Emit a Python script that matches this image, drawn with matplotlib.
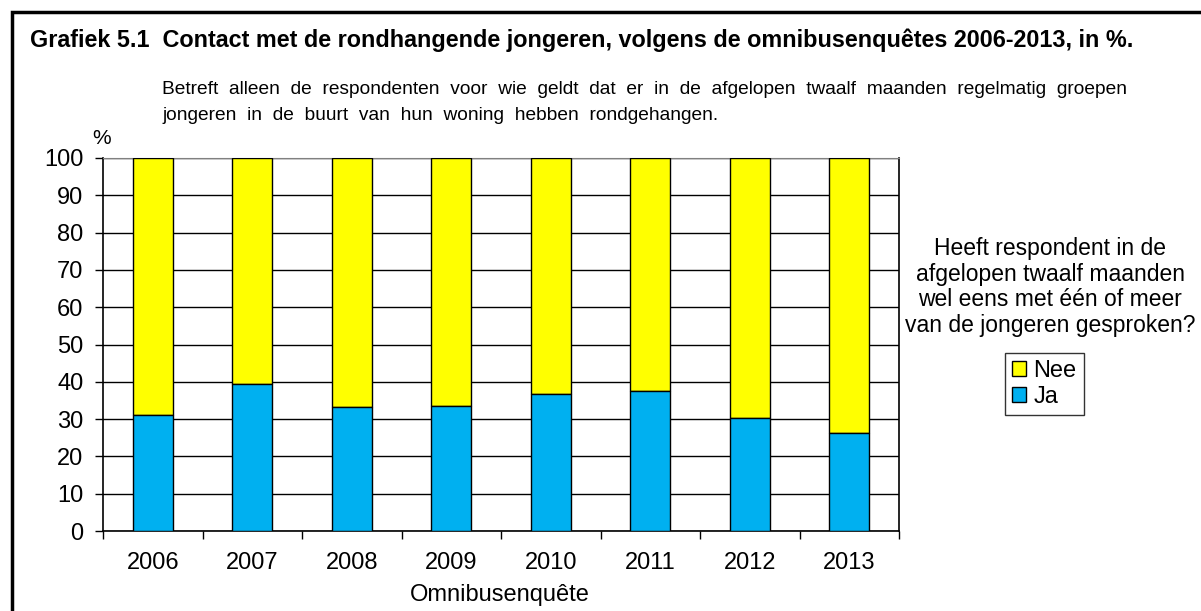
import matplotlib.pyplot as plt
from matplotlib.patches import Rectangle
import numpy as np

plt.rcParams['font.family'] = ['Liberation Sans', 'DejaVu Sans']

years = ['2006', '2007', '2008', '2009', '2010', '2011', '2012', '2013']
ja = [31.0, 39.4, 33.3, 33.6, 36.7, 37.4, 30.3, 26.4]
nee = [100 - v for v in ja]

fig = plt.figure(figsize=(12.01, 6.11), dpi=100)
ax = fig.add_axes([103/1201, 80/611, 796/1201, 373/611])

x = np.arange(len(years))
b_nee = ax.bar(x, nee, 0.4, bottom=ja, color='#FFFF00', edgecolor='black', linewidth=1, label='Nee', zorder=3)
b_ja = ax.bar(x, ja, 0.4, color='#00B0F0', edgecolor='black', linewidth=1, label='Ja', zorder=3)

ax.set_xlim(-0.5, len(years) - 0.5)
ax.set_ylim(0, 100)
ax.set_yticks(range(0, 101, 10))
ax.yaxis.grid(True, color='black', linewidth=1, zorder=0)
ax.set_xticks(x)
ax.set_xticklabels(years, fontsize=17)
ax.set_xticks(np.arange(-0.5, len(years)), minor=True)
ax.tick_params(axis='x', which='major', length=0, pad=15)
ax.tick_params(axis='x', which='minor', length=6, width=1, direction='out')
ax.tick_params(axis='y', labelsize=17, length=6, width=1, direction='out', pad=8)
for s in ['left', 'bottom', 'right']:
    ax.spines[s].set_color('black')
    ax.spines[s].set_linewidth(1.2)
ax.spines['top'].set_color('#808080')
ax.set_axisbelow(True)

fig.text(102/1201, 1 - 139/611, '%', fontsize=15, ha='center', va='center')
fig.text(500/1201, 1 - 601/611, 'Omnibusenquête', fontsize=17, ha='center', va='baseline')

fig.text(30/1201, 1 - 40/611,
         'Grafiek 5.1  Contact met de rondhangende jongeren, volgens de omnibusenquêtes 2006-2013, in %.',
         fontsize=16.8, fontweight='bold', ha='left', va='center')
fig.text(162/1201, 1 - 90/611,
         'Betreft  alleen  de  respondenten  voor  wie  geldt  dat  er  in  de  afgelopen  twaalf  maanden  regelmatig  groepen',
         fontsize=13.8, ha='left', va='center')
fig.text(162/1201, 1 - 115/611,
         'jongeren  in  de  buurt  van  hun  woning  hebben  rondgehangen.',
         fontsize=13.8, ha='left', va='center')

fig.text(1050/1201, 1 - 287/611,
         'Heeft respondent in de\nafgelopen twaalf maanden\nwel eens met één of meer\nvan de jongeren gesproken?',
         fontsize=16.5, ha='center', va='center', linespacing=1.15)

leg = fig.legend(handles=[b_nee, b_ja], labels=['Nee', 'Ja'], loc='upper left',
                 bbox_to_anchor=(1005/1201, 1 - 353/611), fontsize=17,
                 frameon=True, fancybox=False, edgecolor='black',
                 handlelength=0.6, handleheight=0.6, handletextpad=0.3,
                 labelspacing=0.15, borderpad=0.3, borderaxespad=0)
leg.get_frame().set_linewidth(1)

fig.patches.append(Rectangle((12/1201, -0.1), 1.2, 1 - 12/611 + 0.1,
                             transform=fig.transFigure, fill=False,
                             edgecolor='black', linewidth=2.5))

fig.savefig('out.png', dpi=100)
